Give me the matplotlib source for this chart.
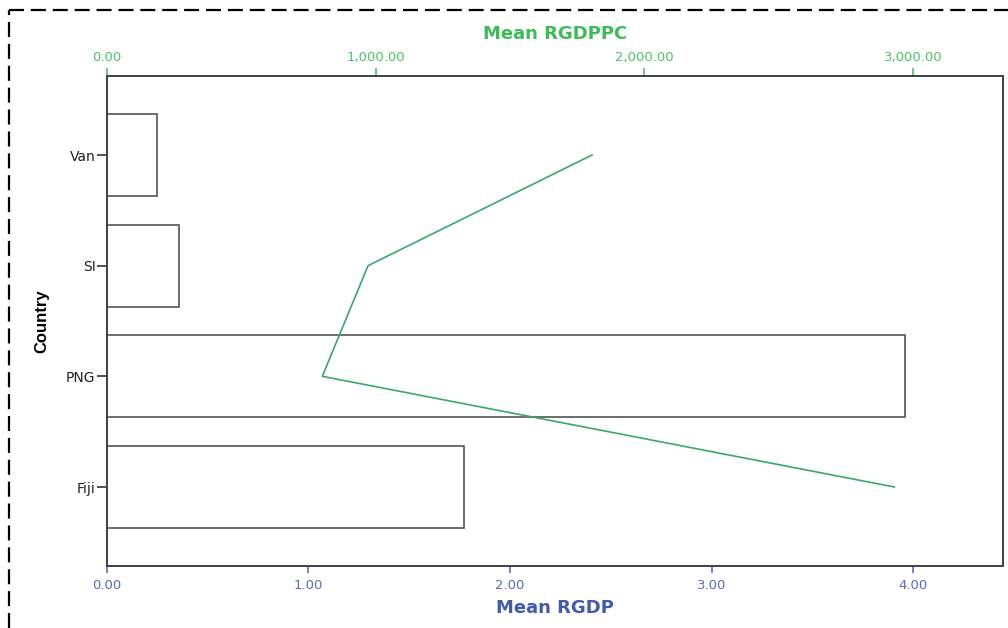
import matplotlib.pyplot as plt
from matplotlib.lines import Line2D
from matplotlib.ticker import FuncFormatter

# data
countries = ["Van", "SI", "PNG", "Fiji"]
mean_rgdp = [0.25, 0.36, 3.96, 1.77]
mean_rgdppc = [1805, 972, 802, 2929]

plt.rcParams['font.family'] = ['DejaVu Sans']

green_txt = '#3dbb57'
green_tick = '#4cc467'
green_line = '#3aa86b'
blue_txt = '#4259ad'
blue_tick = '#5a6cc0'

fig = plt.figure(figsize=(10.08, 6.28), dpi=100)
ax = fig.add_axes([0.1058, 0.0987, 0.8892, 0.7803])

pos = list(range(len(countries)))
ax.barh(pos, mean_rgdp, height=0.74, facecolor='white', edgecolor='#555555', linewidth=1.2)
ax.set_xlim(0, 4.444)
ax.set_ylim(3.714, -0.714)
ax.set_yticks(pos)
ax.set_yticklabels(countries, fontsize=10, color='#222222')
ax.set_xticks([0, 1, 2, 3, 4])
ax.xaxis.set_major_formatter(FuncFormatter(lambda v, p: '{:.2f}'.format(v)))
ax.tick_params(axis='x', colors=blue_tick, labelsize=9.5, length=5, width=1.2, pad=4)
ax.tick_params(axis='y', length=7, width=1.2, color='#333333', pad=1)

ax2 = ax.twiny()
ax2.plot(mean_rgdppc, pos, color=green_line, linewidth=1.2)
ax2.set_xlim(0, 3333)
ax2.set_xticks([0, 1000, 2000, 3000])
ax2.xaxis.set_major_formatter(FuncFormatter(lambda v, p: '{:,.2f}'.format(v)))
ax2.tick_params(axis='x', colors=green_tick, labelsize=9.5, length=5.5, width=1.2, pad=3)

for a in (ax, ax2):
    for s in a.spines.values():
        s.set_color('#444444')
        s.set_linewidth(1.4)

# axis titles
cx = 0.1058 + 0.8892 / 2
fig.text(cx, 0.946, 'Mean RGDPPC', fontsize=13, fontweight='bold', color=green_txt,
         ha='center', va='center')
fig.text(cx, 0.0326, 'Mean RGDP', fontsize=13, fontweight='bold', color=blue_txt,
         ha='center', va='center')
fig.text(41.5 / 1008, 1 - 321 / 628, 'Country', fontsize=12, fontweight='bold', color='black',
         rotation=90, ha='center', va='center', family=['Liberation Sans', 'DejaVu Sans'])

# dashed frame around the figure (left and top edges visible)
dash = (0, (6.75, 3.1))
fig.add_artist(Line2D([0.009, 0.009], [0.0, 0.984], transform=fig.transFigure,
                      color='black', linewidth=1.6, linestyle=dash))
fig.add_artist(Line2D([0.009, 1.0], [0.984, 0.984], transform=fig.transFigure,
                      color='black', linewidth=1.6, linestyle=dash))

fig.savefig('out.png', dpi=100)
